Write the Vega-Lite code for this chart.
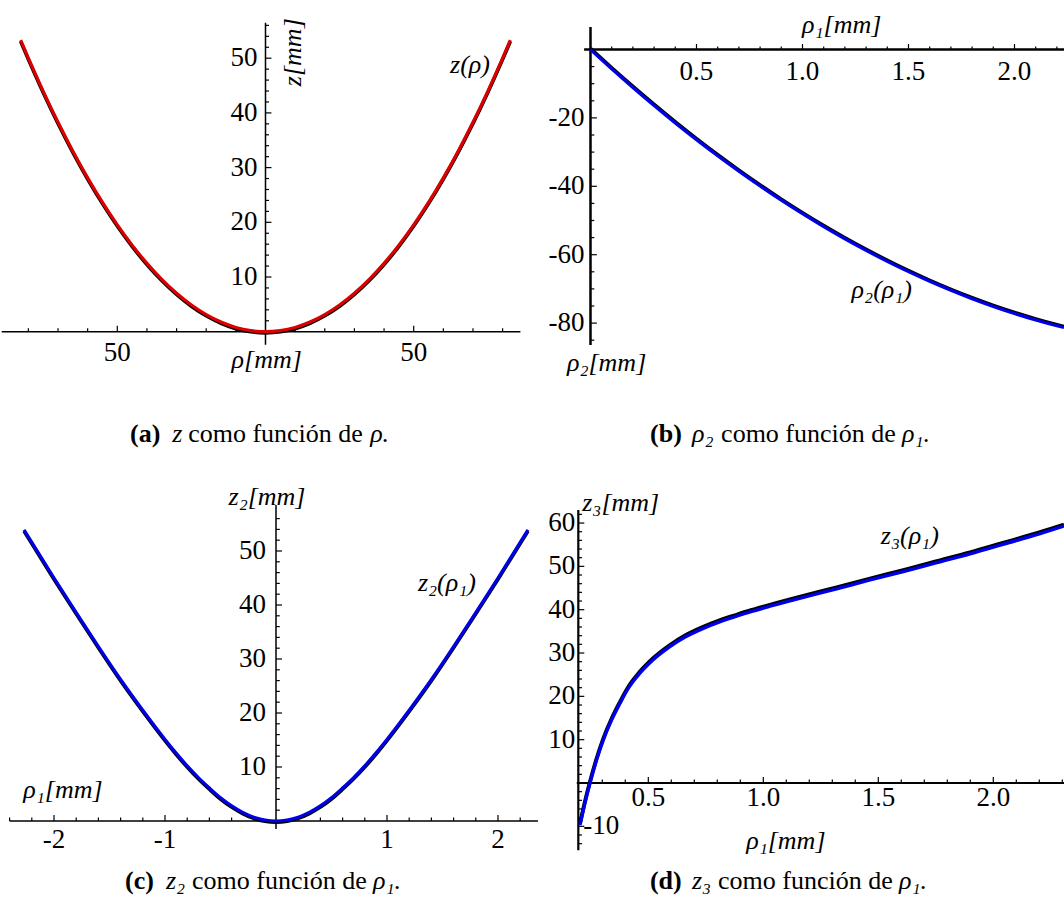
{
"$schema": "https://vega.github.io/schema/vega-lite/v6.json",
"padding": 0,
"background": "white",
"spacing": 0,
"bounds": "flush",
"columns": 2,
"config": {"view": {"stroke": null}, "concat": {"spacing": 0}, "text": {"font": "Liberation Serif, Times New Roman, serif", "color": "black"}},
"datasets": {
"cA": [{"x":-82.6,"y":53.3},{"x":-80,"y":50.0},{"x":-75,"y":43.95},{"x":-70,"y":38.28},{"x":-65,"y":33.01},{"x":-60,"y":28.13},{"x":-55,"y":23.63},{"x":-50,"y":19.53},{"x":-45,"y":15.82},{"x":-40,"y":12.5},{"x":-35,"y":9.57},{"x":-30,"y":7.03},{"x":-25,"y":4.88},{"x":-20,"y":3.13},{"x":-15,"y":1.76},{"x":-10,"y":0.78},{"x":-5,"y":0.2},{"x":0,"y":0},{"x":5,"y":0.2},{"x":10,"y":0.78},{"x":15,"y":1.76},{"x":20,"y":3.13},{"x":25,"y":4.88},{"x":30,"y":7.03},{"x":35,"y":9.57},{"x":40,"y":12.5},{"x":45,"y":15.82},{"x":50,"y":19.53},{"x":55,"y":23.63},{"x":60,"y":28.13},{"x":65,"y":33.01},{"x":70,"y":38.28},{"x":75,"y":43.95},{"x":80,"y":50.0},{"x":82.6,"y":53.3}],
"cB": [{"x":0,"y":0},{"x":0.1,"y":-5.65},{"x":0.2,"y":-11.1},{"x":0.3,"y":-16.37},{"x":0.4,"y":-21.46},{"x":0.5,"y":-26.35},{"x":0.6,"y":-31.06},{"x":0.7,"y":-35.57},{"x":0.8,"y":-39.9},{"x":0.9,"y":-44.05},{"x":1.0,"y":-48.0},{"x":1.1,"y":-51.77},{"x":1.2,"y":-55.34},{"x":1.3,"y":-58.73},{"x":1.4,"y":-61.94},{"x":1.5,"y":-64.95},{"x":1.6,"y":-67.78},{"x":1.7,"y":-70.41},{"x":1.8,"y":-72.86},{"x":1.9,"y":-75.13},{"x":2.0,"y":-77.2},{"x":2.1,"y":-79.09},{"x":2.2,"y":-80.78},{"x":2.2335,"y":-81.3}],
"cC": [{"x":-2.27,"y":53.9},{"x":-2.2,"y":51.6},{"x":-2.0,"y":45.0},{"x":-1.8,"y":38.6},{"x":-1.6,"y":32.3},{"x":-1.4,"y":26.2},{"x":-1.2,"y":20.5},{"x":-1.0,"y":15.1},{"x":-0.9,"y":12.57},{"x":-0.8,"y":10.2},{"x":-0.7,"y":8.03},{"x":-0.6,"y":6.1},{"x":-0.5,"y":4.3},{"x":-0.4,"y":2.8},{"x":-0.3,"y":1.6},{"x":-0.2,"y":0.7},{"x":-0.1,"y":0.18},{"x":0,"y":0},{"x":0.1,"y":0.18},{"x":0.2,"y":0.7},{"x":0.3,"y":1.6},{"x":0.4,"y":2.8},{"x":0.5,"y":4.3},{"x":0.6,"y":6.1},{"x":0.7,"y":8.03},{"x":0.8,"y":10.2},{"x":0.9,"y":12.57},{"x":1.0,"y":15.1},{"x":1.2,"y":20.5},{"x":1.4,"y":26.2},{"x":1.6,"y":32.3},{"x":1.8,"y":38.6},{"x":2.0,"y":45.0},{"x":2.2,"y":51.6},{"x":2.27,"y":53.9}],
"cD": [{"x":0.203,"y":-9.7},{"x":0.225,"y":-4.5},{"x":0.2465,"y":0},{"x":0.275,"y":5.3},{"x":0.304,"y":9.9},{"x":0.34,"y":14.5},{"x":0.377,"y":18.4},{"x":0.41,"y":21.6},{"x":0.45,"y":24.5},{"x":0.522,"y":28.5},{"x":0.594,"y":31.5},{"x":0.66,"y":33.7},{"x":0.739,"y":35.7},{"x":0.81,"y":37.2},{"x":0.884,"y":38.5},{"x":0.95,"y":39.6},{"x":1.029,"y":40.8},{"x":1.17,"y":42.8},{"x":1.319,"y":44.8},{"x":1.46,"y":46.8},{"x":1.609,"y":48.8},{"x":1.75,"y":50.8},{"x":1.899,"y":52.9},{"x":2.05,"y":55.2},{"x":2.2,"y":57.5},{"x":2.307,"y":59.3}]
},
"concat": [
{"width": 540, "height": 470,
 "layer": [
  {"data": {"values": [{"x":-89,"x2":86,"y":0,"y2":0},{"x":0,"x2":0,"y":-2.4,"y2":56.5}]},
   "mark": {"type":"rule","color":"black","strokeWidth":1.5},
   "encoding": {"x":{"field":"x","type":"quantitative","scale":{"domain":[-89.57,92.61],"nice":false,"zero":false},"axis":null},"x2":{"field":"x2"},"y":{"field":"y","type":"quantitative","scale":{"domain":[-25.28,60.64],"nice":false,"zero":false},"axis":null},"y2":{"field":"y2"}}},
  {"data": {"values": [{"x":-80,"x2":-80,"y":0,"y2":0.64},{"x":-70,"x2":-70,"y":0,"y2":0.64},{"x":-60,"x2":-60,"y":0,"y2":0.64},{"x":-50,"x2":-50,"y":0,"y2":1.1},{"x":-40,"x2":-40,"y":0,"y2":0.64},{"x":-30,"x2":-30,"y":0,"y2":0.64},{"x":-20,"x2":-20,"y":0,"y2":0.64},{"x":-10,"x2":-10,"y":0,"y2":0.64},{"x":10,"x2":10,"y":0,"y2":0.64},{"x":20,"x2":20,"y":0,"y2":0.64},{"x":30,"x2":30,"y":0,"y2":0.64},{"x":40,"x2":40,"y":0,"y2":0.64},{"x":50,"x2":50,"y":0,"y2":1.1},{"x":60,"x2":60,"y":0,"y2":0.64},{"x":70,"x2":70,"y":0,"y2":0.64},{"x":80,"x2":80,"y":0,"y2":0.64},
   {"x":0,"x2":1.18,"y":2,"y2":2},{"x":0,"x2":1.18,"y":4,"y2":4},{"x":0,"x2":1.18,"y":6,"y2":6},{"x":0,"x2":1.18,"y":8,"y2":8},{"x":0,"x2":2.0,"y":10,"y2":10},{"x":0,"x2":1.18,"y":12,"y2":12},{"x":0,"x2":1.18,"y":14,"y2":14},{"x":0,"x2":1.18,"y":16,"y2":16},{"x":0,"x2":1.18,"y":18,"y2":18},{"x":0,"x2":2.0,"y":20,"y2":20},{"x":0,"x2":1.18,"y":22,"y2":22},{"x":0,"x2":1.18,"y":24,"y2":24},{"x":0,"x2":1.18,"y":26,"y2":26},{"x":0,"x2":1.18,"y":28,"y2":28},{"x":0,"x2":2.0,"y":30,"y2":30},{"x":0,"x2":1.18,"y":32,"y2":32},{"x":0,"x2":1.18,"y":34,"y2":34},{"x":0,"x2":1.18,"y":36,"y2":36},{"x":0,"x2":1.18,"y":38,"y2":38},{"x":0,"x2":2.0,"y":40,"y2":40},{"x":0,"x2":1.18,"y":42,"y2":42},{"x":0,"x2":1.18,"y":44,"y2":44},{"x":0,"x2":1.18,"y":46,"y2":46},{"x":0,"x2":1.18,"y":48,"y2":48},{"x":0,"x2":2.0,"y":50,"y2":50},{"x":0,"x2":1.18,"y":52,"y2":52},{"x":0,"x2":1.18,"y":54,"y2":54},{"x":0,"x2":1.18,"y":56,"y2":56}]},
   "mark": {"type":"rule","color":"black","strokeWidth":1.2},
   "encoding": {"x":{"field":"x","type":"quantitative","scale":{"domain":[-89.57,92.61],"nice":false,"zero":false},"axis":null},"x2":{"field":"x2"},"y":{"field":"y","type":"quantitative","scale":{"domain":[-25.28,60.64],"nice":false,"zero":false},"axis":null},"y2":{"field":"y2"}}},
  {"data": {"name": "cA"},
   "mark": {"type":"line","color":"black","strokeWidth":3.6,"yOffset":1.2,"interpolate":"monotone"},
   "encoding": {"x":{"field":"x","type":"quantitative","scale":{"domain":[-89.57,92.61],"nice":false,"zero":false},"axis":null},"y":{"field":"y","type":"quantitative","scale":{"domain":[-25.28,60.64],"nice":false,"zero":false},"axis":null}}},
  {"data": {"name": "cA"},
   "mark": {"type":"line","color":"#dd0000","strokeWidth":3.2,"interpolate":"monotone"},
   "encoding": {"x":{"field":"x","type":"quantitative","scale":{"domain":[-89.57,92.61],"nice":false,"zero":false},"axis":null},"y":{"field":"y","type":"quantitative","scale":{"domain":[-25.28,60.64],"nice":false,"zero":false},"axis":null}}},
  {"data": {"values": [{"x":0,"y":10,"t":"10"},{"x":0,"y":20,"t":"20"},{"x":0,"y":30,"t":"30"},{"x":0,"y":40,"t":"40"},{"x":0,"y":50,"t":"50"}]},
   "mark": {"type":"text","fontSize":27,"align":"right","baseline":"middle","dx":-8},
   "encoding": {"x":{"field":"x","type":"quantitative","scale":{"domain":[-89.57,92.61],"nice":false,"zero":false},"axis":null},"y":{"field":"y","type":"quantitative","scale":{"domain":[-25.28,60.64],"nice":false,"zero":false},"axis":null},"text":{"field":"t"}}},
  {"data": {"values": [{"x":-50,"y":0,"t":"50"},{"x":50,"y":0,"t":"50"}]},
   "mark": {"type":"text","fontSize":27,"align":"center","baseline":"middle","dy":21},
   "encoding": {"x":{"field":"x","type":"quantitative","scale":{"domain":[-89.57,92.61],"nice":false,"zero":false},"axis":null},"y":{"field":"y","type":"quantitative","scale":{"domain":[-25.28,60.64],"nice":false,"zero":false},"axis":null},"text":{"field":"t"}}},
  {"data": {"values": [{"x":69.0,"y":48.76,"t":"z(ρ)"},{"x":0.4,"y":-5.12,"t":"ρ[mm]"}]},
   "mark": {"type":"text","fontSize":26,"fontStyle":"italic","align":"center","baseline":"middle"},
   "encoding": {"x":{"field":"x","type":"quantitative","scale":{"domain":[-89.57,92.61],"nice":false,"zero":false},"axis":null},"y":{"field":"y","type":"quantitative","scale":{"domain":[-25.28,60.64],"nice":false,"zero":false},"axis":null},"text":{"field":"t"}}},
  {"data": {"values": [{"x":9.4,"y":51.1,"t":"z[mm]"}]},
   "mark": {"type":"text","fontSize":26,"fontStyle":"italic","align":"center","baseline":"middle","angle":270},
   "encoding": {"x":{"field":"x","type":"quantitative","scale":{"domain":[-89.57,92.61],"nice":false,"zero":false},"axis":null},"y":{"field":"y","type":"quantitative","scale":{"domain":[-25.28,60.64],"nice":false,"zero":false},"axis":null},"text":{"field":"t"}}},
  {"data": {"values": [{"x":-45.7,"y":-20.16,"t":"(a)"}]},
   "mark": {"type":"text","fontSize":26,"fontWeight":"bold","align":"left","baseline":"alphabetic"},
   "encoding": {"x":{"field":"x","type":"quantitative","scale":{"domain":[-89.57,92.61],"nice":false,"zero":false},"axis":null},"y":{"field":"y","type":"quantitative","scale":{"domain":[-25.28,60.64],"nice":false,"zero":false},"axis":null},"text":{"field":"t"}}},
  {"data": {"values": [{"x":-31.5,"y":-20.16,"t":"z"},{"x":35.3,"y":-20.16,"t":"ρ."}]},
   "mark": {"type":"text","fontSize":26,"fontStyle":"italic","align":"left","baseline":"alphabetic"},
   "encoding": {"x":{"field":"x","type":"quantitative","scale":{"domain":[-89.57,92.61],"nice":false,"zero":false},"axis":null},"y":{"field":"y","type":"quantitative","scale":{"domain":[-25.28,60.64],"nice":false,"zero":false},"axis":null},"text":{"field":"t"}}},
  {"data": {"values": [{"x":-26.1,"y":-20.16,"t":"como función de"}]},
   "mark": {"type":"text","fontSize":26,"align":"left","baseline":"alphabetic"},
   "encoding": {"x":{"field":"x","type":"quantitative","scale":{"domain":[-89.57,92.61],"nice":false,"zero":false},"axis":null},"y":{"field":"y","type":"quantitative","scale":{"domain":[-25.28,60.64],"nice":false,"zero":false},"axis":null},"text":{"field":"t"}}}
 ]},
{"width": 524, "height": 470,
 "layer": [
  {"data": {"values": [{"x":-0.03,"x2":2.2335,"y":0,"y2":0},{"x":0,"x2":0,"y":6.6,"y2":-86.4}]},
   "mark": {"type":"rule","color":"black","strokeWidth":2.5},
   "encoding": {"x":{"field":"x","type":"quantitative","scale":{"domain":[-0.2382,2.2335],"nice":false,"zero":false},"axis":null},"x2":{"field":"x2"},"y":{"field":"y","type":"quantitative","scale":{"domain":[-122.95,14.47],"nice":false,"zero":false},"axis":null},"y2":{"field":"y2"}}},
  {"data": {"values": [{"x":0.1,"x2":0.1,"y":0,"y2":0.9},{"x":0.2,"x2":0.2,"y":0,"y2":0.9},{"x":0.3,"x2":0.3,"y":0,"y2":0.9},{"x":0.4,"x2":0.4,"y":0,"y2":0.9},{"x":0.5,"x2":0.5,"y":0,"y2":1.6},{"x":0.6,"x2":0.6,"y":0,"y2":0.9},{"x":0.7,"x2":0.7,"y":0,"y2":0.9},{"x":0.8,"x2":0.8,"y":0,"y2":0.9},{"x":0.9,"x2":0.9,"y":0,"y2":0.9},{"x":1.0,"x2":1.0,"y":0,"y2":1.6},{"x":1.1,"x2":1.1,"y":0,"y2":0.9},{"x":1.2,"x2":1.2,"y":0,"y2":0.9},{"x":1.3,"x2":1.3,"y":0,"y2":0.9},{"x":1.4,"x2":1.4,"y":0,"y2":0.9},{"x":1.5,"x2":1.5,"y":0,"y2":1.6},{"x":1.6,"x2":1.6,"y":0,"y2":0.9},{"x":1.7,"x2":1.7,"y":0,"y2":0.9},{"x":1.8,"x2":1.8,"y":0,"y2":0.9},{"x":1.9,"x2":1.9,"y":0,"y2":0.9},{"x":2.0,"x2":2.0,"y":0,"y2":1.6},{"x":2.1,"x2":2.1,"y":0,"y2":0.9},{"x":2.2,"x2":2.2,"y":0,"y2":0.9},
   {"x":0,"x2":0.018,"y":-5,"y2":-5},{"x":0,"x2":0.018,"y":-10,"y2":-10},{"x":0,"x2":0.018,"y":-15,"y2":-15},{"x":0,"x2":0.03,"y":-20,"y2":-20},{"x":0,"x2":0.018,"y":-25,"y2":-25},{"x":0,"x2":0.018,"y":-30,"y2":-30},{"x":0,"x2":0.018,"y":-35,"y2":-35},{"x":0,"x2":0.03,"y":-40,"y2":-40},{"x":0,"x2":0.018,"y":-45,"y2":-45},{"x":0,"x2":0.018,"y":-50,"y2":-50},{"x":0,"x2":0.018,"y":-55,"y2":-55},{"x":0,"x2":0.03,"y":-60,"y2":-60},{"x":0,"x2":0.018,"y":-65,"y2":-65},{"x":0,"x2":0.018,"y":-70,"y2":-70},{"x":0,"x2":0.018,"y":-75,"y2":-75},{"x":0,"x2":0.03,"y":-80,"y2":-80},{"x":0,"x2":0.018,"y":-85,"y2":-85}]},
   "mark": {"type":"rule","color":"black","strokeWidth":1.2},
   "encoding": {"x":{"field":"x","type":"quantitative","scale":{"domain":[-0.2382,2.2335],"nice":false,"zero":false},"axis":null},"x2":{"field":"x2"},"y":{"field":"y","type":"quantitative","scale":{"domain":[-122.95,14.47],"nice":false,"zero":false},"axis":null},"y2":{"field":"y2"}}},
  {"data": {"name": "cB"},
   "mark": {"type":"line","color":"black","strokeWidth":3.6,"yOffset":-1,"interpolate":"monotone"},
   "encoding": {"x":{"field":"x","type":"quantitative","scale":{"domain":[-0.2382,2.2335],"nice":false,"zero":false},"axis":null},"y":{"field":"y","type":"quantitative","scale":{"domain":[-122.95,14.47],"nice":false,"zero":false},"axis":null}}},
  {"data": {"name": "cB"},
   "mark": {"type":"line","color":"#0000e6","strokeWidth":3.2,"interpolate":"monotone"},
   "encoding": {"x":{"field":"x","type":"quantitative","scale":{"domain":[-0.2382,2.2335],"nice":false,"zero":false},"axis":null},"y":{"field":"y","type":"quantitative","scale":{"domain":[-122.95,14.47],"nice":false,"zero":false},"axis":null}}},
  {"data": {"values": [{"x":0,"y":-20,"t":"-20"},{"x":0,"y":-40,"t":"-40"},{"x":0,"y":-60,"t":"-60"},{"x":0,"y":-80,"t":"-80"}]},
   "mark": {"type":"text","fontSize":27,"align":"right","baseline":"middle","dx":-6},
   "encoding": {"x":{"field":"x","type":"quantitative","scale":{"domain":[-0.2382,2.2335],"nice":false,"zero":false},"axis":null},"y":{"field":"y","type":"quantitative","scale":{"domain":[-122.95,14.47],"nice":false,"zero":false},"axis":null},"text":{"field":"t"}}},
  {"data": {"values": [{"x":0.5,"y":0,"t":"0.5"},{"x":1.0,"y":0,"t":"1.0"},{"x":1.5,"y":0,"t":"1.5"},{"x":2.0,"y":0,"t":"2.0"}]},
   "mark": {"type":"text","fontSize":27,"align":"center","baseline":"middle","dy":23},
   "encoding": {"x":{"field":"x","type":"quantitative","scale":{"domain":[-0.2382,2.2335],"nice":false,"zero":false},"axis":null},"y":{"field":"y","type":"quantitative","scale":{"domain":[-122.95,14.47],"nice":false,"zero":false},"axis":null},"text":{"field":"t"}}},
  {"data": {"values": [{"x":1.185,"y":7.16,"t":"ρ₁[mm]"},{"x":0.076,"y":-91.7,"t":"ρ₂[mm]"},{"x":1.374,"y":-70.3,"t":"ρ₂(ρ₁)"}]},
   "mark": {"type":"text","fontSize":26,"fontStyle":"italic","align":"center","baseline":"middle"},
   "encoding": {"x":{"field":"x","type":"quantitative","scale":{"domain":[-0.2382,2.2335],"nice":false,"zero":false},"axis":null},"y":{"field":"y","type":"quantitative","scale":{"domain":[-122.95,14.47],"nice":false,"zero":false},"axis":null},"text":{"field":"t"}}},
  {"data": {"values": [{"x":0.281,"y":-114.8,"t":"(b)"}]},
   "mark": {"type":"text","fontSize":26,"fontWeight":"bold","align":"left","baseline":"alphabetic"},
   "encoding": {"x":{"field":"x","type":"quantitative","scale":{"domain":[-0.2382,2.2335],"nice":false,"zero":false},"axis":null},"y":{"field":"y","type":"quantitative","scale":{"domain":[-122.95,14.47],"nice":false,"zero":false},"axis":null},"text":{"field":"t"}}},
  {"data": {"values": [{"x":0.479,"y":-114.8,"t":"ρ₂"},{"x":1.469,"y":-114.8,"t":"ρ₁."}]},
   "mark": {"type":"text","fontSize":26,"fontStyle":"italic","align":"left","baseline":"alphabetic"},
   "encoding": {"x":{"field":"x","type":"quantitative","scale":{"domain":[-0.2382,2.2335],"nice":false,"zero":false},"axis":null},"y":{"field":"y","type":"quantitative","scale":{"domain":[-122.95,14.47],"nice":false,"zero":false},"axis":null},"text":{"field":"t"}}},
  {"data": {"values": [{"x":0.616,"y":-114.8,"t":"como función de"}]},
   "mark": {"type":"text","fontSize":26,"align":"left","baseline":"alphabetic"},
   "encoding": {"x":{"field":"x","type":"quantitative","scale":{"domain":[-0.2382,2.2335],"nice":false,"zero":false},"axis":null},"y":{"field":"y","type":"quantitative","scale":{"domain":[-122.95,14.47],"nice":false,"zero":false},"axis":null},"text":{"field":"t"}}}
 ]},
{"width": 540, "height": 449,
 "layer": [
  {"data": {"values": [{"x":-2.4,"x2":2.36,"y":0,"y2":0},{"x":0,"x2":0,"y":-1.5,"y2":58.5}]},
   "mark": {"type":"rule","color":"black","strokeWidth":1.5},
   "encoding": {"x":{"field":"x","type":"quantitative","scale":{"domain":[-2.4865,2.3784],"nice":false,"zero":false},"axis":null},"x2":{"field":"x2"},"y":{"field":"y","type":"quantitative","scale":{"domain":[-18.15,65.0],"nice":false,"zero":false},"axis":null},"y2":{"field":"y2"}}},
  {"data": {"values": [{"x":-2.4,"x2":-2.4,"y":0,"y2":0.65},{"x":-2.2,"x2":-2.2,"y":0,"y2":0.65},{"x":-2.0,"x2":-2.0,"y":0,"y2":1.1},{"x":-1.8,"x2":-1.8,"y":0,"y2":0.65},{"x":-1.6,"x2":-1.6,"y":0,"y2":0.65},{"x":-1.4,"x2":-1.4,"y":0,"y2":0.65},{"x":-1.2,"x2":-1.2,"y":0,"y2":0.65},{"x":-1.0,"x2":-1.0,"y":0,"y2":1.1},{"x":-0.8,"x2":-0.8,"y":0,"y2":0.65},{"x":-0.6,"x2":-0.6,"y":0,"y2":0.65},{"x":-0.4,"x2":-0.4,"y":0,"y2":0.65},{"x":-0.2,"x2":-0.2,"y":0,"y2":0.65},{"x":0.2,"x2":0.2,"y":0,"y2":0.65},{"x":0.4,"x2":0.4,"y":0,"y2":0.65},{"x":0.6,"x2":0.6,"y":0,"y2":0.65},{"x":0.8,"x2":0.8,"y":0,"y2":0.65},{"x":1.0,"x2":1.0,"y":0,"y2":1.1},{"x":1.2,"x2":1.2,"y":0,"y2":0.65},{"x":1.4,"x2":1.4,"y":0,"y2":0.65},{"x":1.6,"x2":1.6,"y":0,"y2":0.65},{"x":1.8,"x2":1.8,"y":0,"y2":0.65},{"x":2.0,"x2":2.0,"y":0,"y2":1.1},{"x":2.2,"x2":2.2,"y":0,"y2":0.65},
   {"x":0,"x2":0.034,"y":2,"y2":2},{"x":0,"x2":0.034,"y":4,"y2":4},{"x":0,"x2":0.034,"y":6,"y2":6},{"x":0,"x2":0.034,"y":8,"y2":8},{"x":0,"x2":0.054,"y":10,"y2":10},{"x":0,"x2":0.034,"y":12,"y2":12},{"x":0,"x2":0.034,"y":14,"y2":14},{"x":0,"x2":0.034,"y":16,"y2":16},{"x":0,"x2":0.034,"y":18,"y2":18},{"x":0,"x2":0.054,"y":20,"y2":20},{"x":0,"x2":0.034,"y":22,"y2":22},{"x":0,"x2":0.034,"y":24,"y2":24},{"x":0,"x2":0.034,"y":26,"y2":26},{"x":0,"x2":0.034,"y":28,"y2":28},{"x":0,"x2":0.054,"y":30,"y2":30},{"x":0,"x2":0.034,"y":32,"y2":32},{"x":0,"x2":0.034,"y":34,"y2":34},{"x":0,"x2":0.034,"y":36,"y2":36},{"x":0,"x2":0.034,"y":38,"y2":38},{"x":0,"x2":0.054,"y":40,"y2":40},{"x":0,"x2":0.034,"y":42,"y2":42},{"x":0,"x2":0.034,"y":44,"y2":44},{"x":0,"x2":0.034,"y":46,"y2":46},{"x":0,"x2":0.034,"y":48,"y2":48},{"x":0,"x2":0.054,"y":50,"y2":50},{"x":0,"x2":0.034,"y":52,"y2":52},{"x":0,"x2":0.034,"y":54,"y2":54},{"x":0,"x2":0.034,"y":56,"y2":56}]},
   "mark": {"type":"rule","color":"black","strokeWidth":1.2},
   "encoding": {"x":{"field":"x","type":"quantitative","scale":{"domain":[-2.4865,2.3784],"nice":false,"zero":false},"axis":null},"x2":{"field":"x2"},"y":{"field":"y","type":"quantitative","scale":{"domain":[-18.15,65.0],"nice":false,"zero":false},"axis":null},"y2":{"field":"y2"}}},
  {"data": {"name": "cC"},
   "mark": {"type":"line","color":"black","strokeWidth":3.6,"yOffset":1.2,"interpolate":"monotone"},
   "encoding": {"x":{"field":"x","type":"quantitative","scale":{"domain":[-2.4865,2.3784],"nice":false,"zero":false},"axis":null},"y":{"field":"y","type":"quantitative","scale":{"domain":[-18.15,65.0],"nice":false,"zero":false},"axis":null}}},
  {"data": {"name": "cC"},
   "mark": {"type":"line","color":"#0000e6","strokeWidth":3.2,"interpolate":"monotone"},
   "encoding": {"x":{"field":"x","type":"quantitative","scale":{"domain":[-2.4865,2.3784],"nice":false,"zero":false},"axis":null},"y":{"field":"y","type":"quantitative","scale":{"domain":[-18.15,65.0],"nice":false,"zero":false},"axis":null}}},
  {"data": {"values": [{"x":0,"y":10,"t":"10"},{"x":0,"y":20,"t":"20"},{"x":0,"y":30,"t":"30"},{"x":0,"y":40,"t":"40"},{"x":0,"y":50,"t":"50"}]},
   "mark": {"type":"text","fontSize":27,"align":"right","baseline":"middle","dx":-10},
   "encoding": {"x":{"field":"x","type":"quantitative","scale":{"domain":[-2.4865,2.3784],"nice":false,"zero":false},"axis":null},"y":{"field":"y","type":"quantitative","scale":{"domain":[-18.15,65.0],"nice":false,"zero":false},"axis":null},"text":{"field":"t"}}},
  {"data": {"values": [{"x":-2,"y":0,"t":"-2"},{"x":-1,"y":0,"t":"-1"},{"x":1,"y":0,"t":"1"},{"x":2,"y":0,"t":"2"}]},
   "mark": {"type":"text","fontSize":27,"align":"center","baseline":"middle","dy":19},
   "encoding": {"x":{"field":"x","type":"quantitative","scale":{"domain":[-2.4865,2.3784],"nice":false,"zero":false},"axis":null},"y":{"field":"y","type":"quantitative","scale":{"domain":[-18.15,65.0],"nice":false,"zero":false},"axis":null},"text":{"field":"t"}}},
  {"data": {"values": [{"x":-0.081,"y":60.0,"t":"z₂[mm]"},{"x":-1.919,"y":5.74,"t":"ρ₁[mm]"},{"x":1.54,"y":44.07,"t":"z₂(ρ₁)"}]},
   "mark": {"type":"text","fontSize":26,"fontStyle":"italic","align":"center","baseline":"middle"},
   "encoding": {"x":{"field":"x","type":"quantitative","scale":{"domain":[-2.4865,2.3784],"nice":false,"zero":false},"axis":null},"y":{"field":"y","type":"quantitative","scale":{"domain":[-18.15,65.0],"nice":false,"zero":false},"axis":null},"text":{"field":"t"}}},
  {"data": {"values": [{"x":-1.36,"y":-12.59,"t":"(c)"}]},
   "mark": {"type":"text","fontSize":26,"fontWeight":"bold","align":"left","baseline":"alphabetic"},
   "encoding": {"x":{"field":"x","type":"quantitative","scale":{"domain":[-2.4865,2.3784],"nice":false,"zero":false},"axis":null},"y":{"field":"y","type":"quantitative","scale":{"domain":[-18.15,65.0],"nice":false,"zero":false},"axis":null},"text":{"field":"t"}}},
  {"data": {"values": [{"x":-0.991,"y":-12.59,"t":"z₂"},{"x":0.874,"y":-12.59,"t":"ρ₁."}]},
   "mark": {"type":"text","fontSize":26,"fontStyle":"italic","align":"left","baseline":"alphabetic"},
   "encoding": {"x":{"field":"x","type":"quantitative","scale":{"domain":[-2.4865,2.3784],"nice":false,"zero":false},"axis":null},"y":{"field":"y","type":"quantitative","scale":{"domain":[-18.15,65.0],"nice":false,"zero":false},"axis":null},"text":{"field":"t"}}},
  {"data": {"values": [{"x":-0.757,"y":-12.59,"t":"como función de"}]},
   "mark": {"type":"text","fontSize":26,"align":"left","baseline":"alphabetic"},
   "encoding": {"x":{"field":"x","type":"quantitative","scale":{"domain":[-2.4865,2.3784],"nice":false,"zero":false},"axis":null},"y":{"field":"y","type":"quantitative","scale":{"domain":[-18.15,65.0],"nice":false,"zero":false},"axis":null},"text":{"field":"t"}}}
 ]},
{"width": 524, "height": 449,
 "layer": [
  {"data": {"values": [{"x":0.189,"x2":2.3074,"y":0,"y2":0},{"x":0.1957,"x2":0.1957,"y":63,"y2":-15.5}]},
   "mark": {"type":"rule","color":"black","strokeWidth":2.2},
   "encoding": {"x":{"field":"x","type":"quantitative","scale":{"domain":[0.0291,2.3074],"nice":false,"zero":false},"axis":null},"x2":{"field":"x2"},"y":{"field":"y","type":"quantitative","scale":{"domain":[-31.39,72.24],"nice":false,"zero":false},"axis":null},"y2":{"field":"y2"}}},
  {"data": {"values": [{"x":0.3,"x2":0.3,"y":0,"y2":0.8},{"x":0.4,"x2":0.4,"y":0,"y2":0.8},{"x":0.5,"x2":0.5,"y":0,"y2":1.4},{"x":0.6,"x2":0.6,"y":0,"y2":0.8},{"x":0.7,"x2":0.7,"y":0,"y2":0.8},{"x":0.8,"x2":0.8,"y":0,"y2":0.8},{"x":0.9,"x2":0.9,"y":0,"y2":0.8},{"x":1.0,"x2":1.0,"y":0,"y2":1.4},{"x":1.1,"x2":1.1,"y":0,"y2":0.8},{"x":1.2,"x2":1.2,"y":0,"y2":0.8},{"x":1.3,"x2":1.3,"y":0,"y2":0.8},{"x":1.4,"x2":1.4,"y":0,"y2":0.8},{"x":1.5,"x2":1.5,"y":0,"y2":1.4},{"x":1.6,"x2":1.6,"y":0,"y2":0.8},{"x":1.7,"x2":1.7,"y":0,"y2":0.8},{"x":1.8,"x2":1.8,"y":0,"y2":0.8},{"x":1.9,"x2":1.9,"y":0,"y2":0.8},{"x":2.0,"x2":2.0,"y":0,"y2":1.4},{"x":2.1,"x2":2.1,"y":0,"y2":0.8},{"x":2.2,"x2":2.2,"y":0,"y2":0.8},{"x":2.3,"x2":2.3,"y":0,"y2":0.8},
   {"x":0.1957,"x2":0.2117,"y":-14,"y2":-14},{"x":0.1957,"x2":0.2117,"y":-12,"y2":-12},{"x":0.1957,"x2":0.2217,"y":-10,"y2":-10},{"x":0.1957,"x2":0.2117,"y":-8,"y2":-8},{"x":0.1957,"x2":0.2117,"y":-6,"y2":-6},{"x":0.1957,"x2":0.2117,"y":-4,"y2":-4},{"x":0.1957,"x2":0.2117,"y":-2,"y2":-2},{"x":0.1957,"x2":0.2117,"y":2,"y2":2},{"x":0.1957,"x2":0.2117,"y":4,"y2":4},{"x":0.1957,"x2":0.2117,"y":6,"y2":6},{"x":0.1957,"x2":0.2117,"y":8,"y2":8},{"x":0.1957,"x2":0.2217,"y":10,"y2":10},{"x":0.1957,"x2":0.2117,"y":12,"y2":12},{"x":0.1957,"x2":0.2117,"y":14,"y2":14},{"x":0.1957,"x2":0.2117,"y":16,"y2":16},{"x":0.1957,"x2":0.2117,"y":18,"y2":18},{"x":0.1957,"x2":0.2217,"y":20,"y2":20},{"x":0.1957,"x2":0.2117,"y":22,"y2":22},{"x":0.1957,"x2":0.2117,"y":24,"y2":24},{"x":0.1957,"x2":0.2117,"y":26,"y2":26},{"x":0.1957,"x2":0.2117,"y":28,"y2":28},{"x":0.1957,"x2":0.2217,"y":30,"y2":30},{"x":0.1957,"x2":0.2117,"y":32,"y2":32},{"x":0.1957,"x2":0.2117,"y":34,"y2":34},{"x":0.1957,"x2":0.2117,"y":36,"y2":36},{"x":0.1957,"x2":0.2117,"y":38,"y2":38},{"x":0.1957,"x2":0.2217,"y":40,"y2":40},{"x":0.1957,"x2":0.2117,"y":42,"y2":42},{"x":0.1957,"x2":0.2117,"y":44,"y2":44},{"x":0.1957,"x2":0.2117,"y":46,"y2":46},{"x":0.1957,"x2":0.2117,"y":48,"y2":48},{"x":0.1957,"x2":0.2217,"y":50,"y2":50},{"x":0.1957,"x2":0.2117,"y":52,"y2":52},{"x":0.1957,"x2":0.2117,"y":54,"y2":54},{"x":0.1957,"x2":0.2117,"y":56,"y2":56},{"x":0.1957,"x2":0.2117,"y":58,"y2":58},{"x":0.1957,"x2":0.2217,"y":60,"y2":60},{"x":0.1957,"x2":0.2117,"y":62,"y2":62}]},
   "mark": {"type":"rule","color":"black","strokeWidth":1.2},
   "encoding": {"x":{"field":"x","type":"quantitative","scale":{"domain":[0.0291,2.3074],"nice":false,"zero":false},"axis":null},"x2":{"field":"x2"},"y":{"field":"y","type":"quantitative","scale":{"domain":[-31.39,72.24],"nice":false,"zero":false},"axis":null},"y2":{"field":"y2"}}},
  {"data": {"name": "cD"},
   "mark": {"type":"line","color":"black","strokeWidth":3.8,"yOffset":-1.5,"interpolate":"monotone"},
   "encoding": {"x":{"field":"x","type":"quantitative","scale":{"domain":[0.0291,2.3074],"nice":false,"zero":false},"axis":null},"y":{"field":"y","type":"quantitative","scale":{"domain":[-31.39,72.24],"nice":false,"zero":false},"axis":null}}},
  {"data": {"name": "cD"},
   "mark": {"type":"line","color":"#0000e6","strokeWidth":3.4,"interpolate":"monotone"},
   "encoding": {"x":{"field":"x","type":"quantitative","scale":{"domain":[0.0291,2.3074],"nice":false,"zero":false},"axis":null},"y":{"field":"y","type":"quantitative","scale":{"domain":[-31.39,72.24],"nice":false,"zero":false},"axis":null}}},
  {"data": {"values": [{"x":0.1957,"y":10,"t":"10"},{"x":0.1957,"y":20,"t":"20"},{"x":0.1957,"y":30,"t":"30"},{"x":0.1957,"y":40,"t":"40"},{"x":0.1957,"y":50,"t":"50"},{"x":0.1957,"y":60,"t":"60"}]},
   "mark": {"type":"text","fontSize":27,"align":"right","baseline":"middle","dx":-3},
   "encoding": {"x":{"field":"x","type":"quantitative","scale":{"domain":[0.0291,2.3074],"nice":false,"zero":false},"axis":null},"y":{"field":"y","type":"quantitative","scale":{"domain":[-31.39,72.24],"nice":false,"zero":false},"axis":null},"text":{"field":"t"}}},
  {"data": {"values": [{"x":0.1957,"y":-10,"t":"-10"}]},
   "mark": {"type":"text","fontSize":27,"align":"left","baseline":"middle","dx":5},
   "encoding": {"x":{"field":"x","type":"quantitative","scale":{"domain":[0.0291,2.3074],"nice":false,"zero":false},"axis":null},"y":{"field":"y","type":"quantitative","scale":{"domain":[-31.39,72.24],"nice":false,"zero":false},"axis":null},"text":{"field":"t"}}},
  {"data": {"values": [{"x":0.5,"y":0,"t":"0.5"},{"x":1.0,"y":0,"t":"1.0"},{"x":1.5,"y":0,"t":"1.5"},{"x":2.0,"y":0,"t":"2.0"}]},
   "mark": {"type":"text","fontSize":27,"align":"center","baseline":"middle","dy":15},
   "encoding": {"x":{"field":"x","type":"quantitative","scale":{"domain":[0.0291,2.3074],"nice":false,"zero":false},"axis":null},"y":{"field":"y","type":"quantitative","scale":{"domain":[-31.39,72.24],"nice":false,"zero":false},"axis":null},"text":{"field":"t"}}},
  {"data": {"values": [{"x":0.38,"y":64.6,"t":"z₃[mm]"},{"x":1.098,"y":-13.4,"t":"ρ₁[mm]"},{"x":1.637,"y":57.0,"t":"z₃(ρ₁)"}]},
   "mark": {"type":"text","fontSize":26,"fontStyle":"italic","align":"center","baseline":"middle"},
   "encoding": {"x":{"field":"x","type":"quantitative","scale":{"domain":[0.0291,2.3074],"nice":false,"zero":false},"axis":null},"y":{"field":"y","type":"quantitative","scale":{"domain":[-31.39,72.24],"nice":false,"zero":false},"axis":null},"text":{"field":"t"}}},
  {"data": {"values": [{"x":0.507,"y":-24.46,"t":"(d)"}]},
   "mark": {"type":"text","fontSize":26,"fontWeight":"bold","align":"left","baseline":"alphabetic"},
   "encoding": {"x":{"field":"x","type":"quantitative","scale":{"domain":[0.0291,2.3074],"nice":false,"zero":false},"axis":null},"y":{"field":"y","type":"quantitative","scale":{"domain":[-31.39,72.24],"nice":false,"zero":false},"axis":null},"text":{"field":"t"}}},
  {"data": {"values": [{"x":0.69,"y":-24.46,"t":"z₃"},{"x":1.59,"y":-24.46,"t":"ρ₁."}]},
   "mark": {"type":"text","fontSize":26,"fontStyle":"italic","align":"left","baseline":"alphabetic"},
   "encoding": {"x":{"field":"x","type":"quantitative","scale":{"domain":[0.0291,2.3074],"nice":false,"zero":false},"axis":null},"y":{"field":"y","type":"quantitative","scale":{"domain":[-31.39,72.24],"nice":false,"zero":false},"axis":null},"text":{"field":"t"}}},
  {"data": {"values": [{"x":0.803,"y":-24.46,"t":"como función de"}]},
   "mark": {"type":"text","fontSize":26,"align":"left","baseline":"alphabetic"},
   "encoding": {"x":{"field":"x","type":"quantitative","scale":{"domain":[0.0291,2.3074],"nice":false,"zero":false},"axis":null},"y":{"field":"y","type":"quantitative","scale":{"domain":[-31.39,72.24],"nice":false,"zero":false},"axis":null},"text":{"field":"t"}}}
 ]}
]
}
